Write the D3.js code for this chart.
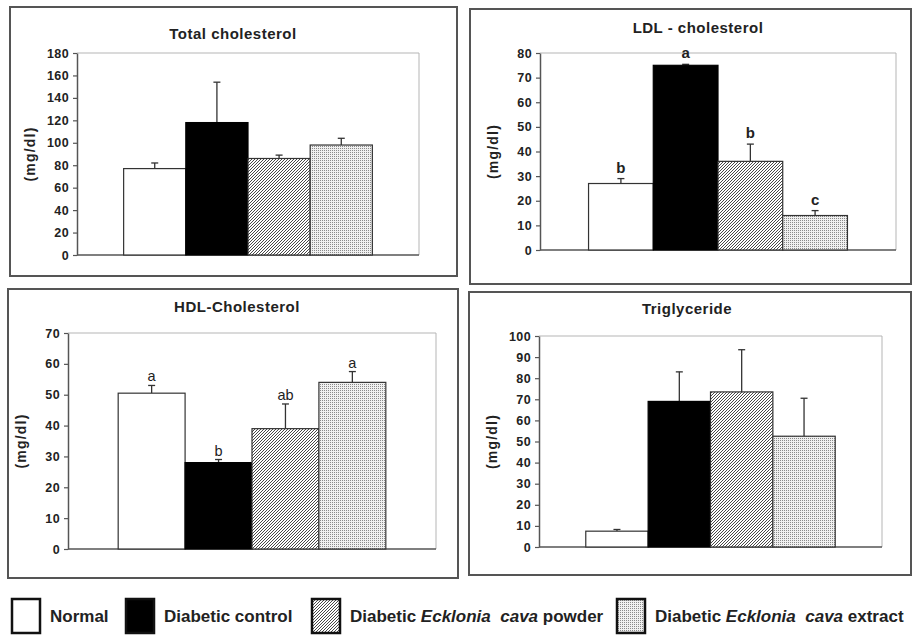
<!DOCTYPE html>
<html>
<head>
<meta charset="utf-8">
<script src="https://cdn.jsdelivr.net/npm/d3@7"></script>
<style>
  body { margin: 0; background: #fff; }
  text { font-family: Arial, "Liberation Sans", sans-serif; fill: #222; }
</style>
</head>
<body>
<script>
// groups (legend order)
const groups = ["Normal", "Diabetic control", "Diabetic Ecklonia cava powder", "Diabetic Ecklonia cava extract"];

const titles = ["Total cholesterol", "LDL - cholesterol", "HDL-Cholesterol", "Triglyceride"];
const yMax = [180, 80, 70, 100];
const yStep = [20, 10, 10, 10];

// mean and SD
const totalMean = [77, 118, 86, 98];
const totalErr = [5, 36, 3, 6];
const ldlMean = [27, 75, 36, 14];
const ldlErr = [2, 0.4, 7, 2];
const hdlMean = [50.5, 28, 39, 54];
const hdlErr = [2.5, 1, 8, 3.5];
const tgMean = [7.5, 69, 73.5, 52.5];
const tgErr = [0.8, 14, 20, 18];

const ldlLetters = ["b", "a", "b", "c"];
const hdlLetters = ["a", "b", "ab", "a"];

const width = 915;
const height = 637;

const svg = d3.select("body").append("svg")
  .attr("width", width)
  .attr("height", height);

const defs = svg.append("defs");
const hatch = defs.append("pattern")
  .attr("id", "hatch")
  .attr("patternUnits", "userSpaceOnUse")
  .attr("width", 3).attr("height", 3);
hatch.append("rect").attr("width", 3).attr("height", 3).attr("fill", "#fff");
hatch.append("path")
  .attr("d", "M-0.75,0.75 l1.5,-1.5 M0,3 l3,-3 M2.25,3.75 l1.5,-1.5")
  .attr("stroke", "#333").attr("stroke-width", 0.9);

const dots = defs.append("pattern")
  .attr("id", "dots")
  .attr("patternUnits", "userSpaceOnUse")
  .attr("width", 2).attr("height", 2);
dots.append("rect").attr("width", 2).attr("height", 2).attr("fill", "#f0f0f0");
dots.append("rect").attr("width", 1).attr("height", 1).attr("fill", "#8a8a8a");

const fills = ["#fff", "#000", "url(#hatch)", "url(#dots)"];

// layout of the four panels
const panels = [
  { box: [10, 7, 457, 276], plot: [77, 53, 419, 255], tx: 233, ty: 34,
    mean: totalMean, err: totalErr, letters: null, bold: true },
  { box: [470, 9, 911, 284], plot: [540, 53, 896, 250], tx: 698, ty: 28,
    mean: ldlMean, err: ldlErr, letters: ldlLetters, bold: true },
  { box: [8, 289, 458, 578], plot: [68, 333, 436, 549], tx: 237, ty: 307,
    mean: hdlMean, err: hdlErr, letters: hdlLetters, bold: false },
  { box: [469, 292, 911, 575], plot: [539, 336, 882, 547], tx: 687, ty: 309,
    mean: tgMean, err: tgErr, letters: null, bold: true }
];

panels.forEach((p, i) => {
  const g = svg.append("g");
  const [bx0, by0, bx1, by1] = p.box;
  const [px0, py0, px1, py1] = p.plot;

  g.append("rect")
    .attr("x", bx0).attr("y", by0)
    .attr("width", bx1 - bx0).attr("height", by1 - by0)
    .attr("fill", "none").attr("stroke", "#555").attr("stroke-width", 2);

  const y = d3.scaleLinear().domain([0, yMax[i]]).range([py1, py0]);
  const x = d3.scaleBand().domain(groups).range([px0, px1])
    .paddingInner(0).paddingOuter(0.75);

  // light frame on top and right
  g.append("path")
    .attr("d", `M${px0},${py0}H${px1}V${py1}`)
    .attr("fill", "none").attr("stroke", "#b5b5b5").attr("stroke-width", 1);

  const ax = g.append("g")
    .attr("transform", `translate(${px0},0)`)
    .call(d3.axisLeft(y)
      .tickValues(d3.range(0, yMax[i] + 1, yStep[i]))
      .tickSize(4).tickPadding(4).tickSizeOuter(0));
  ax.select(".domain").attr("stroke", "#555").attr("stroke-width", 1.5);
  ax.selectAll(".tick line").attr("stroke", "#555").attr("stroke-width", 1.2);
  ax.selectAll(".tick text")
    .attr("font-size", 12.5).attr("font-weight", "bold")
    .attr("letter-spacing", 0.4).attr("fill", "#222");

  g.append("line")
    .attr("x1", px0).attr("x2", px1)
    .attr("y1", y(0)).attr("y2", y(0))
    .attr("stroke", "#555").attr("stroke-width", 1.5);

  const cx = d => x(d) + x.bandwidth() / 2;

  // error bars (upper only)
  groups.forEach((d, j) => {
    const top = y(p.mean[j] + p.err[j]);
    g.append("line")
      .attr("x1", cx(d)).attr("x2", cx(d))
      .attr("y1", y(p.mean[j])).attr("y2", top)
      .attr("stroke", "#333").attr("stroke-width", 1.3);
    g.append("line")
      .attr("x1", cx(d) - 3.5).attr("x2", cx(d) + 3.5)
      .attr("y1", top).attr("y2", top)
      .attr("stroke", "#333").attr("stroke-width", 1.3);
  });

  g.selectAll("rect.bar")
    .data(groups)
    .join("rect")
    .attr("class", "bar")
    .attr("x", d => x(d))
    .attr("width", x.bandwidth())
    .attr("y", (d, j) => y(p.mean[j]))
    .attr("height", (d, j) => y(0) - y(p.mean[j]))
    .attr("fill", (d, j) => fills[j])
    .attr("stroke", (d, j) => j === 1 ? "#000" : "#333")
    .attr("stroke-width", 1.2);

  if (p.letters) {
    g.selectAll("text.letter")
      .data(groups)
      .join("text")
      .attr("class", "letter")
      .attr("x", d => cx(d))
      .attr("y", (d, j) => y(p.mean[j] + p.err[j]) - (p.bold ? 6 : 4))
      .attr("text-anchor", "middle")
      .attr("font-size", p.bold ? 15 : 14.5)
      .attr("font-weight", p.bold ? "bold" : "normal")
      .text((d, j) => p.letters[j]);
  }

  g.append("text")
    .attr("x", p.tx).attr("y", p.ty)
    .attr("dy", "0.35em")
    .attr("text-anchor", "middle")
    .attr("font-size", 15).attr("font-weight", "bold")
    .attr("letter-spacing", 0.5)
    .text(titles[i]);

  g.append("text")
    .attr("transform", `translate(${px0 - 47},${(py0 + py1) / 2}) rotate(-90)`)
    .attr("dy", "0.35em")
    .attr("text-anchor", "middle")
    .attr("font-size", 14).attr("font-weight", "bold")
    .attr("letter-spacing", 1.2)
    .text("(mg/dl)");
});

// legend
const legendX = [12, 126, 312, 617];
const legend = svg.append("g");
groups.forEach((d, j) => {
  legend.append("rect")
    .attr("x", legendX[j]).attr("y", 599)
    .attr("width", 28).attr("height", 34)
    .attr("fill", fills[j])
    .attr("stroke", "#111").attr("stroke-width", 2.5);
  const t = legend.append("text")
    .attr("x", legendX[j] + 38).attr("y", 616)
    .attr("dy", "0.35em")
    .attr("font-size", 17).attr("font-weight", "bold")
    .style("white-space", "pre");
  const m = d.match(/^(Diabetic )Ecklonia cava (.*)$/);
  if (m) {
    t.append("tspan").text("Diabetic ");
    t.append("tspan").attr("font-style", "italic").text("Ecklonia");
    t.append("tspan").text("  ");
    t.append("tspan").attr("font-style", "italic").text("cava");
    t.append("tspan").text(" " + m[2]);
  } else {
    t.text(d);
  }
});
</script>
</body>
</html>
